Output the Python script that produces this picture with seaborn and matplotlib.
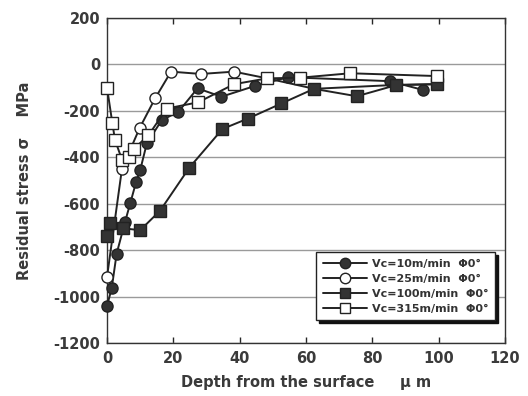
import numpy as np
import pandas as pd
import matplotlib
matplotlib.use("Agg")
import matplotlib.pyplot as plt
import seaborn as sns

# ---- data ----
x_v10 = [0, 1.4, 2.9, 5.4, 7.0, 8.8, 10.0, 12.0, 16.5, 21.5, 27.3, 34.5, 44.5, 54.6, 85.2, 95.3]
y_v10 = [-1040, -965, -815, -680, -598, -505, -455, -340, -240, -204, -103, -139, -93, -55, -72, -110]

x_v25 = [0, 4.5, 9.8, 14.5, 19.3, 28.3, 38.3, 48.3, 62.5, 87.2, 99.4]
y_v25 = [-915, -450, -275, -146, -31, -41, -31, -60, -105, -88, -85]

x_v100 = [0, 0.9, 4.9, 10.0, 16.0, 24.8, 34.8, 42.5, 52.6, 62.4, 75.3, 87.2, 99.4]
y_v100 = [-740, -685, -706, -714, -630, -445, -278, -233, -168, -105, -137, -89, -85]

x_v315 = [0, 1.6, 2.4, 4.5, 6.5, 8.0, 12.5, 18.0, 27.5, 38.3, 48.3, 58.3, 73.3, 99.4]
y_v315 = [-100, -252, -325, -410, -400, -365, -305, -190, -163, -85, -60, -57, -38, -50]

labels = ["Vc=10m/min  Φ0°", "Vc=25m/min  Φ0°", "Vc=100m/min  Φ0°", "Vc=315m/min  Φ0°"]
x_ticks = [0, 20, 40, 60, 80, 100, 120]
y_ticks = [-1200, -1000, -800, -600, -400, -200, 0, 200]

series = [(x_v10, y_v10), (x_v25, y_v25), (x_v100, y_v100), (x_v315, y_v315)]
styles = [
    dict(marker="o", mfc="#333333", ms=8),
    dict(marker="o", mfc="white", ms=8),
    dict(marker="s", mfc="#333333", ms=8.5),
    dict(marker="s", mfc="white", ms=9),
]

sns.set_style("white")
plt.rcParams["font.family"] = ["DejaVu Sans"]
plt.rcParams["axes.unicode_minus"] = False

fig = plt.figure(figsize=(5.28, 3.96), dpi=100)
ax = fig.add_axes([0.2027, 0.1338, 0.7538, 0.8207])

for (xs, ys), st, lab in zip(series, styles, labels):
    df = pd.DataFrame({"x": xs, "y": ys})
    sns.lineplot(data=df, x="x", y="y", ax=ax, sort=False, estimator=None,
                 color="#222222", linewidth=1.4, marker=st["marker"],
                 markersize=st["ms"], markerfacecolor=st["mfc"],
                 markeredgecolor="#222222", markeredgewidth=1.0,
                 label=lab, clip_on=False, zorder=3)

ax.set_xlim(0, 120)
ax.set_ylim(-1200, 200)
ax.set_xticks(x_ticks)
ax.set_yticks(y_ticks)
ax.yaxis.grid(True, color="#9a9a9a", linewidth=1.0)
ax.xaxis.grid(False)
ax.set_axisbelow(True)
for s in ax.spines.values():
    s.set_visible(True)
    s.set_color("#333333")
    s.set_linewidth(1.0)
ax.tick_params(axis="x", direction="in", length=4, top=True, bottom=True,
               labelsize=10.5, labelcolor="#3a3a3a", width=1, pad=6)
ax.tick_params(axis="y", direction="in", length=0, left=False,
               labelsize=10.5, labelcolor="#3a3a3a", pad=5)
for t in ax.get_xticklabels() + ax.get_yticklabels():
    t.set_fontweight("bold")

ax.set_xlabel("Depth from the surface     μ m", fontsize=10.5, fontweight="bold",
              color="#3a3a3a", labelpad=6)
ax.set_ylabel("Residual stress σ    MPa", fontsize=10.5, fontweight="bold",
              color="#3a3a3a", labelpad=15)

leg = ax.legend(loc="lower right", bbox_to_anchor=(0.975, 0.07), frameon=True,
                shadow={"color": "#111111", "alpha": 1.0, "ox": 2.2, "oy": -2.2},
                fancybox=False, fontsize=8, handlelength=4.0,
                borderpad=0.6, labelspacing=0.45, handletextpad=0.4,
                borderaxespad=0)
leg.get_frame().set_edgecolor("#222222")
leg.get_frame().set_linewidth(1.0)
leg.get_frame().set_alpha(1.0)
for t in leg.get_texts():
    t.set_fontweight("bold")
    t.set_color("#333333")
for h in leg.legend_handles:
    h.set_markersize(7.5)

fig.savefig("out.png", dpi=100)
